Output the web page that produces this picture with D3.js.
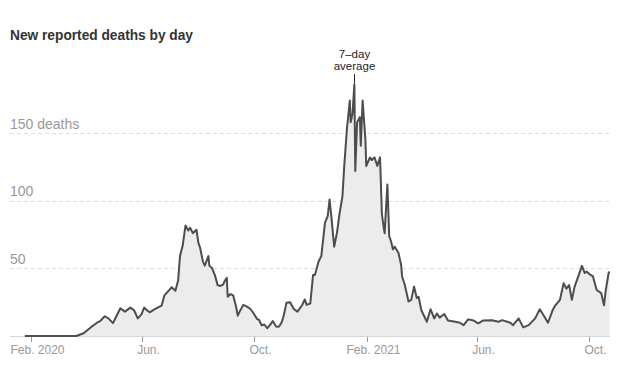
<!DOCTYPE html>
<html>
<head>
<meta charset="utf-8">
<script src="https://cdn.jsdelivr.net/npm/d3@7"></script>
<style>
  html, body { margin: 0; padding: 0; background: #fff; }
  svg { display: block; }
  text { font-family: "Liberation Sans", Arial, sans-serif; }
</style>
</head>
<body>
<svg id="chart" width="618" height="379"></svg>
<script>
const dates = [
  "2020-01-25","2020-03-21","2020-03-29","2020-04-07","2020-04-13","2020-04-16","2020-04-21","2020-04-25","2020-04-30",
  "2020-05-04","2020-05-08","2020-05-13","2020-05-19","2020-05-23","2020-05-27","2020-05-31","2020-06-03","2020-06-06",
  "2020-06-09","2020-06-15","2020-06-22","2020-06-25","2020-06-29","2020-07-03","2020-07-07","2020-07-10","2020-07-12",
  "2020-07-15","2020-07-18","2020-07-21","2020-07-23","2020-07-26","2020-07-30","2020-08-01","2020-08-03","2020-08-06",
  "2020-08-08","2020-08-12","2020-08-13","2020-08-16","2020-08-19","2020-08-22","2020-08-25","2020-08-28","2020-08-30",
  "2020-09-01","2020-09-02","2020-09-05","2020-09-08","2020-09-11","2020-09-13","2020-09-15","2020-09-19","2020-09-22",
  "2020-09-26","2020-09-30","2020-10-04","2020-10-06","2020-10-09","2020-10-12","2020-10-15","2020-10-18","2020-10-21",
  "2020-10-25","2020-10-28","2020-10-31","2020-11-02","2020-11-05","2020-11-09","2020-11-13","2020-11-17","2020-11-22",
  "2020-11-25","2020-11-27","2020-12-01","2020-12-04","2020-12-06","2020-12-10","2020-12-13","2020-12-17","2020-12-20",
  "2020-12-22","2020-12-24","2020-12-27","2020-12-30","2021-01-02","2021-01-05","2021-01-07","2021-01-10","2021-01-11",
  "2021-01-13","2021-01-14","2021-01-16","2021-01-18","2021-01-19","2021-01-21","2021-01-24","2021-01-25","2021-01-27",
  "2021-01-30","2021-01-31","2021-02-04","2021-02-06","2021-02-09","2021-02-12","2021-02-15","2021-02-17","2021-02-19",
  "2021-02-20","2021-02-23","2021-02-25","2021-02-27","2021-03-01","2021-03-03","2021-03-07","2021-03-10","2021-03-11",
  "2021-03-14","2021-03-18","2021-03-21","2021-03-24","2021-03-27","2021-03-29","2021-04-01","2021-04-07","2021-04-11",
  "2021-04-15","2021-04-18","2021-04-21","2021-04-26","2021-04-30","2021-05-08","2021-05-13","2021-05-17","2021-05-22",
  "2021-05-28","2021-06-02","2021-06-07","2021-06-17","2021-06-24","2021-06-28","2021-07-07","2021-07-10","2021-07-16",
  "2021-07-21","2021-07-27","2021-08-03","2021-08-08","2021-08-12","2021-08-17","2021-08-22","2021-08-25","2021-08-30",
  "2021-09-03","2021-09-06","2021-09-09","2021-09-12","2021-09-15","2021-09-19","2021-09-23","2021-09-26","2021-09-28",
  "2021-10-02","2021-10-05","2021-10-09","2021-10-14","2021-10-17","2021-10-19","2021-10-22","2021-10-23"
];
const values = [
  0,0,2,7,10,11,14.6,13,9.5,
  15,20.5,18,21,19,13,16,21,19,
  17.5,20,22.5,30,33,36,33.5,41,59,
  67,81.6,78,80,76,78.5,69,65,55,
  52,59,52,50,45,37.6,37,38,41,
  43,29,31,30,22,15,18,23,22,
  20.5,17,12.5,12,8,8.5,5.7,8,11,
  6.8,7,10.4,15,24.5,25,20,18,22.7,
  27,23,24,45,45,55,59,83.7,88.5,
  100.8,88,66,76,91,103,125.7,154,160,
  174,158,164,186,122,158,161.7,140.6,174,
  145.6,125.7,131.9,130,132,125.7,132,90,80,
  76,112,73.7,70,64,66,61.5,52.5,44,
  37.7,25.5,26.7,36.5,28,29,19,10.5,19.8,
  13,16.6,13.6,16.2,11.4,10.5,9.8,8,12.3,
  11.4,9.4,11.4,11.7,10.5,11.7,9.8,8,13,
  6.4,8,13,19.8,15.5,9.8,19,22.7,26.7,
  39,35,37.7,26.7,36.5,44,51.8,46.5,47.7,
  45.3,44,34,31.7,22.7,34,46.5,47.7
];
const xTickDates = ["2020-02-01","2020-06-01","2020-10-01","2021-02-01","2021-06-01","2021-10-01"];
const xTickLabels = ["Feb. 2020","Jun.","Oct.","Feb. 2021","Jun.","Oct."];
const yTickValues = [50, 100, 150];
const yTickLabels = ["50", "100", "150 deaths"];
const titleText = "New reported deaths by day";
const annotationLines = ["7–day", "average"];
const annotationDate = "2021-01-18";

const parse = d3.utcParse("%Y-%m-%d");
const data = dates.map((d, i) => ({ date: parse(d), value: values[i] }));

const svg = d3.select("#chart");
const x = d3.scaleUtc()
  .domain([parse("2020-02-01"), parse("2021-10-01")])
  .range([31.3, 589.3]);
const y = d3.scaleLinear().domain([0, 150]).range([336, 133]);
const gridLeft = 10, gridRight = 610;

// title
svg.append("text")
  .attr("x", 10).attr("y", 40)
  .attr("font-size", 15).attr("font-weight", "bold")
  .attr("fill", "#333")
  .attr("textLength", 183).attr("lengthAdjust", "spacingAndGlyphs")
  .text(titleText);

// gridlines + y labels
const yg = svg.append("g");
yTickValues.forEach((v, i) => {
  yg.append("line")
    .attr("x1", gridLeft).attr("x2", gridRight)
    .attr("y1", Math.round(y(v)) + 0.5).attr("y2", Math.round(y(v)) + 0.5)
    .attr("stroke", "#dcdcdc").attr("stroke-dasharray", "4,3");
  yg.append("text")
    .attr("x", gridLeft).attr("y", y(v) - 4.5)
    .attr("font-size", 14).attr("fill", "#999")
    .text(yTickLabels[i]);
});

// area
const area = d3.area()
  .x(d => x(d.date)).y0(y(0)).y1(d => y(d.value));
svg.append("path").datum(data)
  .attr("d", area).attr("fill", "#ececec");

// baseline
svg.append("line")
  .attr("x1", gridLeft).attr("x2", gridRight)
  .attr("y1", y(0) + 0.5).attr("y2", y(0) + 0.5)
  .attr("stroke", "#d6d6d6");

// x axis ticks
const xg = svg.append("g");
xTickDates.forEach((d, i) => {
  const px = Math.round(x(parse(d))) + 0.5;
  xg.append("line")
    .attr("x1", px).attr("x2", px)
    .attr("y1", y(0) + 1).attr("y2", y(0) + 6)
    .attr("stroke", "#999");
  xg.append("text")
    .attr("x", px + 6).attr("y", 354)
    .attr("text-anchor", "middle")
    .attr("font-size", 12).attr("fill", "#999")
    .text(xTickLabels[i]);
});

// line
const line = d3.line().x(d => x(d.date)).y(d => y(d.value));
svg.append("path").datum(data)
  .attr("d", line).attr("fill", "none")
  .attr("stroke", "#4d4d4d").attr("stroke-width", 2)
  .attr("stroke-linejoin", "round");

// annotation
const ax = Math.round(x(parse(annotationDate))) + 0.5;
svg.append("line")
  .attr("x1", ax).attr("x2", ax)
  .attr("y1", 74).attr("y2", y(186) - 1)
  .attr("stroke", "#222").attr("stroke-width", 1);
annotationLines.forEach((t, i) => {
  svg.append("text")
    .attr("x", ax).attr("y", 57.5 + i * 12)
    .attr("text-anchor", "middle")
    .attr("font-size", 11.5).attr("fill", "#222")
    .text(t);
});
</script>
</body>
</html>
